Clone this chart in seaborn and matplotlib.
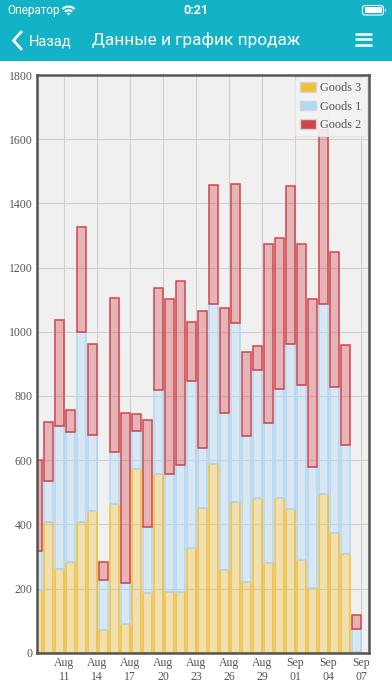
import numpy as np
import pandas as pd
import matplotlib
matplotlib.use("Agg")
import matplotlib.pyplot as plt
from matplotlib.patches import Patch, Wedge, FancyBboxPatch, Rectangle
from matplotlib.lines import Line2D
from matplotlib.transforms import IdentityTransform
import seaborn as sns

# ---------------- data ----------------
dates = ["Aug 09", "Aug 10", "Aug 11", "Aug 12", "Aug 13", "Aug 14", "Aug 15", "Aug 16",
         "Aug 17", "Aug 18", "Aug 19", "Aug 20", "Aug 21", "Aug 22", "Aug 23", "Aug 24",
         "Aug 25", "Aug 26", "Aug 27", "Aug 28", "Aug 29", "Aug 30", "Aug 31", "Sep 01",
         "Sep 02", "Sep 03", "Sep 04", "Sep 05", "Sep 06", "Sep 07"]
goods3 = [195, 408, 260, 283, 406, 443, 70, 462, 90, 571, 186, 557, 189, 190, 325, 452,
          588, 257, 468, 220, 483, 281, 483, 447, 288, 202, 496, 373, 309, 3]
goods1 = [123, 127, 446, 406, 594, 234, 156, 162, 128, 119, 207, 262, 368, 394, 522, 187,
          498, 490, 560, 455, 398, 435, 340, 516, 546, 376, 590, 454, 337, 70]
goods2 = [282, 183, 332, 66, 325, 286, 56, 480, 530, 53, 332, 316, 546, 574, 184, 425,
          372, 327, 432, 262, 75, 557, 469, 491, 439, 523, 544, 420, 314, 44]
tick_labels = ["Aug\n11", "Aug\n14", "Aug\n17", "Aug\n20", "Aug\n23", "Aug\n26",
               "Aug\n29", "Sep\n01", "Sep\n04", "Sep\n07"]
y_ticks = [0, 200, 400, 600, 800, 1000, 1200, 1400, 1600, 1800]
legend_order = ["Goods 3", "Goods 1", "Goods 2"]

# ---------------- styling ----------------
colors = {"Goods 3": "#f0c03a", "Goods 1": "#afd8f7", "Goods 2": "#d2444c"}
TEAL = "#14b2c6"
W, H = 392, 696

sns.set_theme(style="whitegrid", rc={
    "axes.facecolor": "#f0f0f0",
    "grid.color": "#cfcfcf",
    "grid.linewidth": 0.8,
})
plt.rcParams["font.family"] = ["Liberation Serif", "DejaVu Serif"]

fig = plt.figure(figsize=(W / 100, H / 100), dpi=100)
fig.patch.set_facecolor("white")

ax = fig.add_axes([37 / W, 1 - 652.7 / H, (369 - 37) / W, (652.7 - 75) / H])

n = len(dates)
df = pd.DataFrame({
    "day": np.tile(np.arange(n), 3),
    "value": goods2 + goods1 + goods3,
    "goods": ["Goods 2"] * n + ["Goods 1"] * n + ["Goods 3"] * n,
})

sns.histplot(data=df, x="day", weights="value", hue="goods",
             hue_order=["Goods 2", "Goods 1", "Goods 3"],
             multiple="stack", discrete=True, shrink=0.85,
             palette=colors, alpha=0.35, linewidth=1.1,
             legend=False, ax=ax)

for p in ax.patches:
    r, g, b, _ = p.get_facecolor()
    p.set_edgecolor((r, g, b, 1.0))
    p.set_linewidth(1.1)

ax.set_axisbelow(True)
ax.grid(True, axis="both", color="#cfcfcf", linewidth=0.8)

ax.set_xlim(-0.064, 30.12)
ax.set_ylim(0, 1800)
tick_pos = [date_i + 0.42 for date_i in range(2, n, 3)]
ax.set_xticks(tick_pos)
ax.set_xticklabels(tick_labels, fontsize=8.5, color="#555555", linespacing=1.25)
ax.set_yticks(y_ticks)
ax.set_yticklabels([str(v) for v in y_ticks], fontsize=8.5, color="#555555")
ax.tick_params(axis="both", length=0, pad=3)
ax.set_xlabel("")
ax.set_ylabel("")

for side, sp in ax.spines.items():
    sp.set_visible(True)
    sp.set_color("#555555")
    sp.set_linewidth(1.8)

handles = [Patch(facecolor=colors[k], edgecolor="#d5d5d5", linewidth=1.0, label=k)
           for k in legend_order]
leg = ax.legend(handles=handles, loc="upper right", fontsize=8.8, frameon=True,
                handlelength=1.3, handleheight=0.85, handletextpad=0.35,
                labelspacing=0.5, borderpad=0.4, borderaxespad=0.2)
leg.get_frame().set_facecolor("#f3f3f3")
leg.get_frame().set_edgecolor("#e2e2e2")
leg.get_frame().set_alpha(0.9)
leg.get_frame().set_linewidth(0.8)
for t in leg.get_texts():
    t.set_color("#555555")

# ---------------- header (status + nav bar) ----------------
fig.add_artist(Rectangle((0, 1 - 61 / H), 1, 61 / H, transform=fig.transFigure,
                         facecolor=TEAL, edgecolor="none", zorder=0))
ui_font = ["Roboto", "DejaVu Sans"]
fig.text(7 / W, 1 - 10.5 / H, "Оператор", color="white", fontsize=8.5,
         family=ui_font, va="center", ha="left")
fig.text(196 / W, 1 - 10.5 / H, "0:21", color="white", fontsize=9,
         family=ui_font, fontweight="bold", va="center", ha="center")

idt = IdentityTransform()
cx, cy = 68.5, H - 15.5
for rad, wd in [(10, 2.2), (6.3, 2.2), (2.8, 2.8)]:
    fig.add_artist(Wedge((cx, cy), rad, 47, 133, width=wd, transform=idt,
                         facecolor="white", edgecolor="none"))

fig.add_artist(FancyBboxPatch((362.5, H - 15), 21, 9.5, boxstyle="round,pad=0,rounding_size=2.5",
                              transform=idt, facecolor="none", edgecolor="white",
                              linewidth=0.8))
fig.add_artist(Rectangle((364.5, H - 13.3), 17, 6.1, transform=idt,
                         facecolor="white", edgecolor="none"))
fig.add_artist(Rectangle((384.5, H - 12), 1.5, 3.5, transform=idt,
                         facecolor="white", edgecolor="none"))

fig.add_artist(Line2D([22 / W, 13.5 / W, 22 / W], [1 - 31 / H, 1 - 40.5 / H, 1 - 50 / H],
                      transform=fig.transFigure, color="white", linewidth=2.0,
                      solid_joinstyle="miter", solid_capstyle="butt"))
fig.text(29 / W, 1 - 41 / H, "Назад", color="white", fontsize=10.5,
         family=ui_font, va="center", ha="left")
fig.text(195.5 / W, 1 - 40 / H, "Данные и график продаж", color="white", fontsize=12.4,
         family=ui_font, va="center", ha="center")
for yy in [34, 39.3, 44.7]:
    fig.add_artist(Line2D([355 / W, 371.5 / W], [1 - yy / H, 1 - yy / H],
                          transform=fig.transFigure, color="white", linewidth=1.8,
                          solid_capstyle="butt"))

fig.savefig("out.png", dpi=100)
